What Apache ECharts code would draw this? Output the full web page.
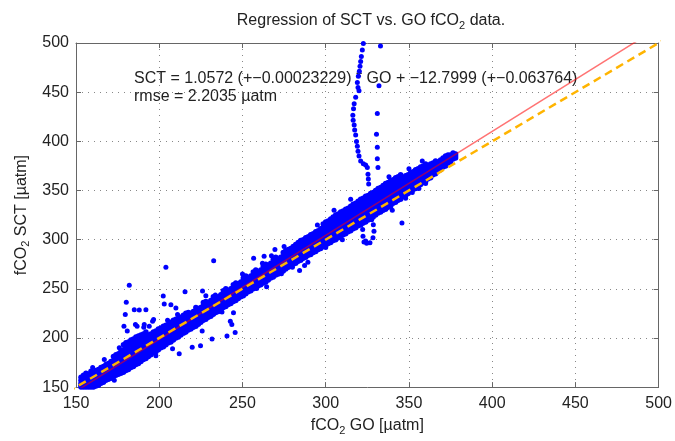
<!DOCTYPE html>
<html><head><meta charset="utf-8">
<script src="https://cdn.jsdelivr.net/npm/echarts@6/dist/echarts.min.js"></script>
<style>html,body{margin:0;padding:0;background:#fff}#c{width:675px;height:441px}</style>
</head><body><div id="c"></div>
<script>
// axis ranges
const axisMin = 150, axisMax = 500, tickStep = 50;

// regression line endpoints (SCT = 1.0572*GO - 12.7999)
const fitLine = [[150, 145.78], [500, 515.8]];
// 1:1 reference line
const oneToOne = [[145, 145], [508, 508]];

// dense band of observations: [GO, [SCT values...]]
const bandCols = [
[153,[150,152,154,157,160]],
[156,[150,152,155,158,161,164]],
[159,[150,153,156,159,162,166]],
[162,[151,154,157,160,163,167]],
[165,[154,157,160,163,166,170]],
[168,[157,160,163,166,169,173]],
[171,[159,163,166,169,172,176]],
[174,[162,166,169,172,175,179,183]],
[177,[164,168,172,175,178,182,187]],
[180,[167,171,175,178,181,185,190,195]],
[183,[170,174,178,181,184,188,193,198]],
[186,[173,177,181,184,187,191,196,201]],
[189,[176,180,184,187,190,194,199,203]],
[192,[179,183,187,190,193,197,201,206]],
[195,[183,187,190,193,196,200,204]],
[198,[186,190,194,197,200,203,207]],
[201,[190,193,197,200,203,206,210]],
[204,[193,196,200,203,206,209,213]],
[207,[196,200,203,206,209,212,216]],
[210,[200,203,206,209,212,215,219]],
[213,[203,206,209,212,215,218,221]],
[216,[206,210,213,216,218,221,225]],
[219,[209,213,216,219,222,225]],
[222,[212,216,219,222,225,228,231]],
[225,[216,219,222,225,228,231]],
[228,[219,222,225,228,231,234,237]],
[231,[222,226,229,232,235,238]],
[234,[226,229,232,235,238,241]],
[237,[229,232,235,238,241,244]],
[240,[232,235,238,241,244,247,250]],
[243,[235,239,242,245,247,250]],
[246,[238,242,245,248,250,253,256]],
[249,[242,245,248,251,254,257]],
[252,[245,248,251,254,257,260,263]],
[255,[248,252,255,258,260,263]],
[258,[251,255,258,261,263,266,269]],
[261,[254,258,261,264,266,269]],
[264,[257,261,264,267,269,272,275]],
[267,[261,264,267,270,273,276]],
[270,[264,267,270,273,276,279,282]],
[273,[267,270,273,276,279,282]],
[276,[270,274,277,280,282,285,289]],
[279,[273,277,280,283,285,288,291]],
[282,[276,280,283,286,288,291,295]],
[285,[279,283,286,289,292,295,299]],
[288,[282,286,289,292,295,298,302]],
[291,[285,289,292,295,298,301,305]],
[294,[288,292,295,298,301,304,308]],
[297,[291,295,298,301,304,307,311]],
[300,[294,298,301,304,307,310,314,318]],
[303,[297,301,304,307,310,313,317,321]],
[306,[300,304,307,311,314,317,321,325]],
[309,[303,307,310,314,317,320,324,328]],
[312,[306,310,314,317,320,323,327,331]],
[315,[309,313,317,320,323,326,330,334]],
[318,[312,316,320,323,326,329,333,337]],
[321,[315,319,323,327,330,333,337,341]],
[324,[318,322,326,330,333,336,340,344]],
[327,[321,325,329,333,336,339,343,347]],
[330,[325,329,333,336,339,342,346,350]],
[333,[328,332,336,339,342,345,349,353]],
[336,[331,335,339,342,345,348,352,357]],
[339,[334,338,342,346,349,352,356,360]],
[342,[338,342,345,349,352,355,359,363]],
[345,[341,345,348,352,355,358,362,366]],
[348,[345,348,352,355,358,361,365]],
[351,[349,352,355,358,361,364,368]],
[354,[352,356,359,362,365,368,371]],
[357,[356,359,362,365,368,371,374]],
[360,[359,363,366,368,371,374,377]],
[363,[363,366,369,371,374,377]],
[366,[367,370,372,374,377,380]],
[369,[371,374,376,378,381]],
[372,[375,378,380,382,385]],
[375,[379,382,384,386]],
[378,[383,385,387]]
];
const bandCols2 = [
[154.5,[150,152,155,158,162]],
[157.5,[150,152,154,157,160,163]],
[160.5,[150,152,155,158,161,165]],
[163.5,[152,156,159,162,165,168]],
[166.5,[155,158,162,165,168,171]],
[169.5,[158,161,165,168,171,174]],
[172.5,[161,164,168,171,174,177,181]],
[175.5,[163,167,170,174,177,180,184]],
[178.5,[165,169,173,177,180,184,188,193]],
[181.5,[168,172,176,180,183,187,192,196]],
[184.5,[171,175,179,183,186,190,194,199]],
[187.5,[174,178,182,186,189,193,197,202]],
[190.5,[178,182,185,189,192,195,200,204]],
[193.5,[181,185,189,192,195,199,203]],
[196.5,[185,189,192,195,198,202,206]],
[199.5,[188,192,195,198,201,205,209]],
[202.5,[191,195,198,202,205,208,212]],
[205.5,[195,198,202,205,208,211,214]],
[208.5,[198,202,205,208,211,214,218]],
[211.5,[201,205,208,211,214,217,220]],
[214.5,[205,208,211,214,217,220,223]],
[217.5,[208,211,214,217,220,223,226]],
[220.5,[211,215,218,221,224,227]],
[223.5,[214,218,221,224,227,230]],
[226.5,[218,221,224,227,230,233,236]],
[229.5,[221,224,227,230,233,236]],
[232.5,[224,228,231,233,236,239,242]],
[235.5,[227,231,234,236,239,242]],
[238.5,[231,234,237,240,242,245,248]],
[241.5,[234,237,240,243,245,248]],
[244.5,[237,240,243,246,248,251,254]],
[247.5,[240,244,247,249,252,255]],
[250.5,[243,247,250,252,255,258,261]],
[253.5,[247,250,253,255,258,261]],
[256.5,[250,253,256,258,261,264,267]],
[259.5,[253,256,259,262,264,267]],
[262.5,[256,259,262,265,267,270,273]],
[265.5,[259,262,265,268,271,274]],
[268.5,[262,266,269,271,274,277,280]],
[271.5,[265,269,272,274,277,280]],
[274.5,[268,272,275,277,280,283,287]],
[277.5,[272,275,278,281,283,286,290]],
[280.5,[275,278,281,284,287,290,293]],
[283.5,[278,281,284,287,290,293,297]],
[286.5,[281,284,287,290,293,296,300]],
[289.5,[284,287,290,293,296,299,303]],
[292.5,[287,291,294,296,299,302,306]],
[295.5,[290,294,297,300,302,305,309]],
[298.5,[293,297,300,303,305,308,312,316]],
[301.5,[296,300,303,306,308,312,315,319]],
[304.5,[299,303,306,309,312,315,319,323]],
[307.5,[302,306,309,312,315,318,322,326]],
[310.5,[305,309,312,316,318,321,325,329]],
[313.5,[308,312,315,319,321,324,328,332]],
[316.5,[311,315,318,322,325,328,332,336]],
[319.5,[314,318,321,325,328,331,335,339]],
[322.5,[317,321,325,328,331,334,338,342]],
[325.5,[320,324,328,331,334,337,341,345]],
[328.5,[323,327,331,334,337,340,344,348]],
[331.5,[327,331,334,338,341,344,348,352]],
[334.5,[330,334,337,341,344,347,351,355]],
[337.5,[333,337,340,344,347,350,354,358]],
[340.5,[337,340,344,347,350,353,357,361]],
[343.5,[340,344,347,350,353,356,360,364]],
[346.5,[344,347,350,354,357,360,363]],
[349.5,[347,351,354,357,360,363,366]],
[352.5,[351,354,357,360,363,366,369]],
[355.5,[355,358,361,363,366,369,372]],
[358.5,[358,361,364,367,369,372,375]],
[361.5,[362,365,367,370,372,375]],
[364.5,[366,368,371,373,375,378]],
[367.5,[370,372,374,376,379]],
[370.5,[374,376,378,381,383]],
[373.5,[378,380,382,384,386]],
[376.5,[382,384,386,388]]
];

// vertical excursion near GO ~320
const spikePoints = [
[322.6,499.6],[322.0,493],[321.4,486.3],[321.0,481.3],[320.6,476.3],[320.2,471.3],[319.6,466.3],
[319.0,459.8],[319.4,454.8],[320.0,451.4],[318.0,444.8],[317.1,438.1],[316.7,433.1],[316.3,426.5],
[316.5,421.5],[317.1,416.5],[317.4,411.5],[318.0,406.5],[318.5,399.9],[319.0,395],[319.4,390],
[320.0,385],[321.0,380],[322.6,377.3],[324.0,376],[325.0,373.3],[325.4,366.6],[325.6,361.7],[325.8,356.7]
];

// dip below the band near GO ~325
const dipPoints = [
[322.0,323.5],[322.2,316.8],[322.2,310.2],[322.4,303.5],[323.0,297.6],[324.0,298.6],[324.6,296.3],
[326.6,296.9],[328.4,301.8],[329.0,308.5],[328.6,315.2],[327.6,320.2]
];

// scattered outliers and ragged band edges
const outlierPoints = [
[204,272],[182,253.7],[180.2,236.4],[179.6,223.8],[188,228.5],[202.4,242.7],[203,234.4],[207,233.7],
[210,230.5],[211,223.8],[215.5,247],[226,247.7],[232.7,278.6],[256.7,281],[233.7,243.7],[237.7,226.5],
[239.7,238.7],[243.6,213.8],[242.7,217],[245.6,205.5],[240.7,202],[231.7,198.8],[225.8,207],[219.8,190.6],
[224.8,192],[212,184],[208,189],[191,213.8],[194,212],[196,217],[185.7,213.8],[173,157],[164,161.7],
[198,182],[185,228.8],[192,228.8],[178.8,212],[180.8,207],[186.7,212],[190.7,211],[196.6,218.8],
[244.6,225.5],[263,283],[267.4,283.6],[269.5,290],[271.4,267],[273.4,265.3],[258.5,250.4],[264.5,252],
[284.3,268.6],[287.3,273.6],[289.3,277],
[345.8,316.8],[356,352],[360,357],[352,348],[348,342],
[332.9,497],[332,456.4],[331,428.2],[330.5,407.2],[331,394],[331,382.3],[331.4,373.3],
[160,170],[167,178],[176,190],[205,218],[215,205],[228,243],[250,265],[262,276],[275,293],
[295,315],[305,330],[315,341],[338,364],[350,372],[358,380],[300,292],[310,300],[340,330],[280,272]
];

const titleText = '{a|Regression of SCT vs. GO fCO}{s|2}{a| data.}';
const xName = '{a|fCO}{s|2}{a| GO [µatm]}';
const yName = '{a|fCO}{s|2}{a| SCT [µatm]}';
const annoLine1 = 'SCT = 1.0572 (+−0.00023229) * GO + −12.7999 (+−0.063764)';
const annoLine2 = 'rmse = 2.2035 µatm';

const bandPoints = [];
bandCols.concat(bandCols2).forEach(c => c[1].forEach(v => bandPoints.push([c[0], v])));

const FONT = '"Liberation Sans", Arial, Helvetica, sans-serif';
const rich = {
  a: {fontFamily: FONT, fontSize: 16, fontWeight: 'normal', color: '#222', lineHeight: 18},
  s: {fontFamily: FONT, fontSize: 11, fontWeight: 'normal', color: '#222', lineHeight: 18, padding: [9, 0, 0, 0]}
};

const axisCommon = {
  type: 'value', min: axisMin, max: axisMax, interval: tickStep,
  axisLine: {show: true, lineStyle: {color: '#666', width: 1}},
  axisTick: {show: true, inside: true, length: 5, lineStyle: {color: '#666'}},
  splitLine: {show: false}
};

const chart = echarts.init(document.getElementById('c'), null, {renderer: 'canvas'});
chart.setOption({
  animation: false,
  backgroundColor: '#fff',
  title: {
    text: titleText, left: 366, top: 7, textAlign: 'center',
    textStyle: {fontWeight: 'normal', rich: rich}
  },
  grid: {left: 76, top: 43, width: 588, height: 351, containLabel: false},
  xAxis: [
    Object.assign({}, axisCommon, {
      position: 'bottom',
      name: xName, nameLocation: 'middle', nameGap: 25,
      nameTextStyle: {rich: rich},
      axisLabel: {show: true, margin: 8, fontFamily: FONT, fontSize: 16, color: '#222'},
      splitLine: {show: true, lineStyle: {color: '#888', type: [1, 5], width: 1}}
    }),
    Object.assign({}, axisCommon, {position: 'top', axisLabel: {show: false}})
  ],
  yAxis: [
    Object.assign({}, axisCommon, {
      position: 'left',
      name: yName, nameLocation: 'middle', nameGap: 45, nameRotate: 90,
      nameTextStyle: {rich: rich},
      axisLabel: {show: true, margin: 7, fontFamily: FONT, fontSize: 16, color: '#222'},
      splitLine: {show: true, lineStyle: {color: '#888', type: [1, 5], width: 1}}
    }),
    Object.assign({}, axisCommon, {position: 'right', axisLabel: {show: false}})
  ],
  graphic: [
    {type: 'text', left: 134, top: 71, z: 1,
     style: {text: annoLine1, font: '16px ' + FONT, fill: '#222'}},
    {type: 'text', left: 134, top: 89, z: 1,
     style: {text: annoLine2, font: '16px ' + FONT, fill: '#222'}}
  ],
  series: [
    {type: 'scatter', name: 'band', data: bandPoints, symbolSize: 5.5, z: 2,
     itemStyle: {color: '#0000ff', opacity: 1}},
    {type: 'scatter', name: 'spike', data: spikePoints, symbolSize: 5, z: 2,
     itemStyle: {color: '#0000ff', opacity: 1}},
    {type: 'scatter', name: 'dip', data: dipPoints, symbolSize: 5, z: 2,
     itemStyle: {color: '#0000ff', opacity: 1}},
    {type: 'scatter', name: 'outliers', data: outlierPoints, symbolSize: 5, z: 2,
     itemStyle: {color: '#0000ff', opacity: 1}},
    {type: 'line', name: 'fit', data: fitLine, showSymbol: false, symbol: 'none', clip: true, z: 3,
     lineStyle: {color: 'rgba(255,0,0,0.55)', width: 1.5}},
    {type: 'line', name: '1:1', data: oneToOne, showSymbol: false, symbol: 'none', clip: false, z: 4,
     lineStyle: {color: '#ffb400', width: 2.5, type: [8, 5]}}
  ]
});
</script></body></html>
